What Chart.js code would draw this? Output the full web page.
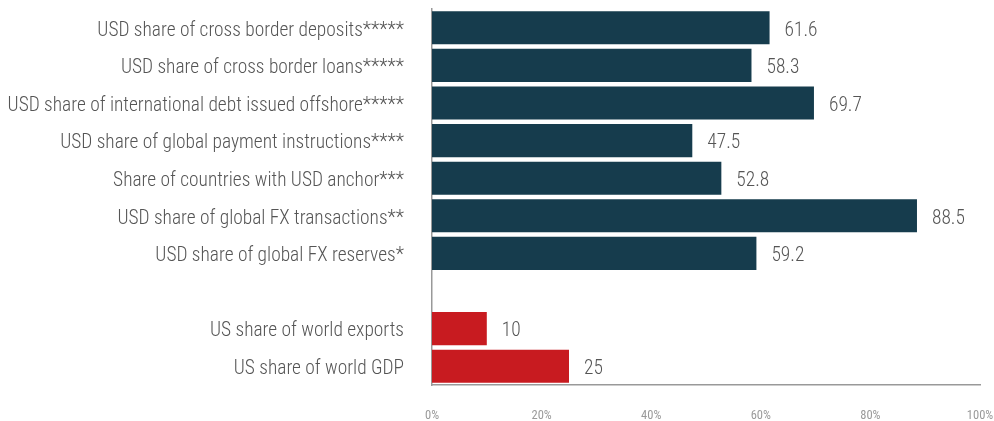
<!DOCTYPE html>
<html>
<head>
<meta charset="utf-8">
<script src="https://cdn.jsdelivr.net/npm/chart.js@4"></script>
<style>
  html, body { margin: 0; padding: 0; background: #fff; }
  #wrap { width: 994px; height: 421px; }
</style>
</head>
<body>
<div id="wrap"><canvas id="UsdChart"></canvas></div>
<script>
const Categories = [
  "USD share of cross border deposits*****",
  "USD share of cross border loans*****",
  "USD share of international debt issued offshore*****",
  "USD share of global payment instructions****",
  "Share of countries with USD anchor***",
  "USD share of global FX transactions**",
  "USD share of global FX reserves*",
  "",
  "US share of world exports",
  "US share of world GDP"
];
const Values = [61.6, 58.3, 69.7, 47.5, 52.8, 88.5, 59.2, null, 10, 25];
const Groups = ["usd", "usd", "usd", "usd", "usd", "usd", "usd", "", "us", "us"];
const XTicks = [0, 20, 40, 60, 80, 100];

const FONT = "'Roboto Condensed', 'Liberation Sans Narrow', 'DejaVu Sans Condensed', Roboto, sans-serif";
const GroupColor = { usd: "#163c4d", us: "#c81b20", "": "#ffffff" };

// draws the number right after each bar
const valueLabels = {
  id: "valueLabels",
  afterDatasetsDraw(chart) {
    const ctx = chart.ctx;
    const meta = chart.getDatasetMeta(0);
    ctx.save();
    ctx.font = "300 19.4px " + FONT;
    ctx.fillStyle = "#555555";
    ctx.textBaseline = "middle";
    ctx.textAlign = "left";
    meta.data.forEach((bar, i) => {
      if (Values[i] == null) return;
      ctx.fillText(String(Values[i]), bar.x + 15, bar.y + 3);
    });
    ctx.restore();
  }
};

// no extra room for first / last tick labels
const noEdgePad = (axis) => {
  axis.paddingTop = 0; axis.paddingBottom = 0;
  axis.paddingLeft = 0; axis.paddingRight = 0;
};

const ctx = document.getElementById("UsdChart").getContext("2d");
new Chart(ctx, {
  type: "bar",
  data: {
    labels: Categories,
    datasets: [{
      data: Values,
      backgroundColor: Groups.map((g) => GroupColor[g]),
      barPercentage: 0.88,
      categoryPercentage: 1.0,
      borderWidth: 0
    }]
  },
  options: {
    indexAxis: "y",
    responsive: true,
    maintainAspectRatio: false,
    animation: false,
    layout: { padding: { top: 9, right: 14, bottom: 0, left: 0 } },
    plugins: {
      legend: { display: false },
      tooltip: { enabled: false }
    },
    scales: {
      x: {
        min: 0,
        max: 100,
        afterBuildTicks: (axis) => { axis.ticks = XTicks.map((v) => ({ value: v })); },
        grid: { display: false, drawTicks: false },
        border: { display: true, color: "#999999", width: 1.5 },
        ticks: {
          color: "#9a9a9a",
          font: { family: FONT, size: 12.5 },
          padding: 23,
          maxRotation: 0,
          callback: (v) => v + "%"
        },
        afterFit: (axis) => { axis.height = 36; noEdgePad(axis); }
      },
      y: {
        grid: { display: false, drawTicks: false },
        border: { display: true, color: "#999999", width: 1.5 },
        ticks: {
          color: "#555555",
          font: { family: FONT, size: 19.4, weight: 300 },
          padding: 28,
          labelOffset: 3,
          autoSkip: false
        },
        afterFit: (axis) => { axis.width = 432; noEdgePad(axis); }
      }
    }
  },
  plugins: [valueLabels]
});
</script>
</body>
</html>
